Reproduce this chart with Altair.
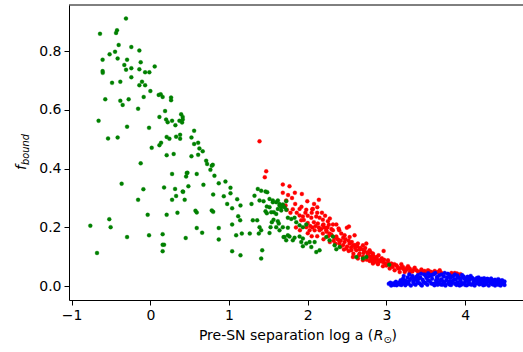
import altair as alt
import pandas as pd

# ---- data ----
green = [
    (-0.31, 0.911), (-0.64, 0.859), (-0.436, 0.862), (-0.424, 0.871), (-0.403, 0.821), (-0.242, 0.814),
    (-0.14, 0.802), (-0.518, 0.789), (-0.449, 0.798), (-0.607, 0.771), (-0.416, 0.775), (-0.296, 0.771),
    (-0.123, 0.762), (-0.331, 0.753), (-0.309, 0.737), (-0.242, 0.742), (-0.14, 0.738), (-0.067, 0.728),
    (-0.013, 0.728), (0.055, 0.748), (-0.607, 0.732), (-0.605, 0.726), (-0.242, 0.711), (-0.487, 0.692),
    (-0.382, 0.696), (-0.106, 0.696), (-0.14, 0.684), (-0.067, 0.684), (0.0, 0.664), (0.106, 0.651),
    (0.131, 0.653), (0.156, 0.644), (-0.085, 0.644), (0.263, 0.642), (0.263, 0.633), (-0.573, 0.636),
    (-0.382, 0.631), (-0.276, 0.636), (-0.352, 0.617), (-0.156, 0.604), (0.187, 0.596), (0.115, 0.576),
    (0.391, 0.585), (0.411, 0.576), (0.411, 0.567), (0.2, 0.567), (0.22, 0.558), (0.276, 0.563),
    (0.318, 0.548), (0.369, 0.563), (-0.658, 0.563), (-0.296, 0.543), (-0.017, 0.539), (-0.538, 0.503),
    (-0.416, 0.506), (0.207, 0.508), (0.242, 0.502), (0.327, 0.509), (0.378, 0.515), (0.378, 0.502),
    (0.017, 0.471), (0.115, 0.48), (0.136, 0.488),
    (0.207, 0.446), (0.296, 0.45), (-0.123, 0.418), (-0.365, 0.349), (0.276, 0.382), (0.454, 0.373),
    (0.471, 0.386), (-0.089, 0.33), (0.174, 0.336), (0.314, 0.331), (0.416, 0.321), (0.483, 0.34),
    (0.327, 0.307), (0.276, 0.294), (0.436, 0.294), (-0.156, 0.294), (-0.034, 0.243), (0.207, 0.243),
    (0.344, 0.25), (-0.522, 0.228), (-0.763, 0.206), (-0.505, 0.201), (-0.296, 0.167), (-0.017, 0.173),
    (0.156, 0.177), (0.449, 0.164), (0.156, 0.141), (0.174, 0.141), (0.156, 0.119), (-0.678, 0.113),
    (0.403, 0.557), (0.556, 0.529), (0.522, 0.506), (0.556, 0.484), (0.607, 0.488), (0.623, 0.469),
    (0.665, 0.459), (0.522, 0.442), (0.607, 0.447), (0.709, 0.427), (0.721, 0.416), (0.78, 0.41),
    (0.793, 0.413), (0.763, 0.396), (0.462, 0.385), (0.589, 0.382), (0.814, 0.376), (0.869, 0.35),
    (0.954, 0.356), (0.674, 0.345), (0.411, 0.322), (1.018, 0.335), (0.798, 0.312), (0.933, 0.306),
    (1.018, 0.316), (1.103, 0.296), (0.976, 0.28), (1.145, 0.275), (1.039, 0.265), (1.285, 0.28),
    (0.78, 0.258), (0.798, 0.253), (0.573, 0.257), (0.589, 0.251), (1.116, 0.238), (1.141, 0.224),
    (1.039, 0.21), (1.302, 0.224), (1.357, 0.224), (0.589, 0.198), (0.658, 0.182), (0.869, 0.198),
    (0.869, 0.159), (1.09, 0.173), (1.162, 0.179), (1.263, 0.179), (1.387, 0.201), (1.408, 0.19),
    (1.378, 0.179), (1.514, 0.181), (1.039, 0.119), (1.145, 0.105), (1.408, 0.094), (1.421, 0.122),
    (1.365, 0.331), (1.408, 0.325), (1.463, 0.322), (1.485, 0.32), (1.323, 0.308), (1.387, 0.292),
    (1.438, 0.289), (1.514, 0.297), (1.556, 0.292), (1.599, 0.286), (1.48, 0.271), (1.514, 0.269),
    (1.463, 0.255), (1.48, 0.248), (1.569, 0.252), (1.62, 0.263), (1.663, 0.269), (1.641, 0.28),
    (1.683, 0.278), (1.726, 0.289), (1.543, 0.218), (1.599, 0.201), (1.632, 0.213), (1.641, 0.19),
    (1.683, 0.201), (1.692, 0.167), (1.726, 0.156), (1.747, 0.173),
    (1.556, 0.286), (1.62, 0.292), (1.641, 0.275), (1.705, 0.269), (1.726, 0.26), (1.663, 0.258),
    (1.536, 0.252), (1.599, 0.246), (1.565, 0.226), (1.62, 0.221), (1.747, 0.233), (1.79, 0.229),
    (1.832, 0.233), (1.527, 0.201), (1.747, 0.199), (1.854, 0.218), (1.896, 0.207), (1.938, 0.201),
    (1.981, 0.21), (1.705, 0.167), (1.768, 0.169), (1.832, 0.165), (1.896, 0.169), (1.938, 0.162),
    (1.81, 0.156), (1.917, 0.15), (1.981, 0.145), (2.023, 0.15), (2.087, 0.15), (1.938, 0.136),
    (2.045, 0.133), (2.108, 0.116), (2.15, 0.122), (2.235, 0.167), (2.277, 0.156), (2.319, 0.169),
    (2.341, 0.139), (2.405, 0.133), (2.363, 0.126), (2.617, 0.099), (2.701, 0.094), (2.744, 0.099),
    (3.035, 0.073),
]

red = [
    (1.387, 0.493), (1.472, 0.391), (1.454, 0.371), (1.683, 0.346), (1.768, 0.34), (1.683, 0.318),
    (1.836, 0.318), (1.925, 0.314), (1.994, 0.289), (2.141, 0.294), (1.726, 0.292), (1.734, 0.26),
    (1.81, 0.262), (1.718, 0.275), (1.896, 0.263), (1.981, 0.26), (2.057, 0.262), (2.121, 0.269),
    (2.065, 0.263), (1.896, 0.241), (1.938, 0.237), (1.917, 0.224), (2.045, 0.233), (2.108, 0.237),
    (2.15, 0.233), (2.192, 0.226), (2.078, 0.218), (2.128, 0.213), (2.192, 0.207), (2.256, 0.221),
    (2.268, 0.209), (2.363, 0.21), (2.392, 0.196), (2.497, 0.199), (2.523, 0.203), (1.981, 0.201),
    (2.023, 0.19), (2.087, 0.19), (2.15, 0.19), (2.192, 0.179), (2.235, 0.19), (2.277, 0.179),
    (2.319, 0.19), (2.363, 0.169), (2.426, 0.179), (2.468, 0.173), (2.532, 0.167), (2.595, 0.173),
    (2.396, 0.156), (2.468, 0.15), (2.532, 0.145), (2.574, 0.139), (2.637, 0.145), (2.701, 0.139),
    (2.744, 0.145), (2.49, 0.128), (2.553, 0.122), (2.617, 0.122), (2.659, 0.111), (2.71, 0.113),
    (2.765, 0.108), (2.786, 0.122), (2.828, 0.105), (2.872, 0.099), (2.574, 0.099), (2.637, 0.094),
    (2.701, 0.088), (2.786, 0.086), (2.85, 0.082), (2.892, 0.079), (2.828, 0.111), (2.964, 0.12),
    (2.808, 0.094), (2.872, 0.097), (2.913, 0.088), (2.955, 0.082), (3.019, 0.088), (3.062, 0.077),
    (3.126, 0.071), (3.189, 0.075), (3.21, 0.065), (3.274, 0.068), (3.295, 0.06), (3.359, 0.063),
    (3.38, 0.054), (3.444, 0.057), (3.486, 0.052), (3.528, 0.054), (3.571, 0.048), (3.613, 0.052),
    (3.655, 0.048), (3.677, 0.054), (2.828, 0.077), (2.892, 0.075), (2.955, 0.068), (3.041, 0.06),
    (3.104, 0.054), (3.168, 0.048), (3.232, 0.048), (3.295, 0.046), (3.826, 0.045), (3.897, 0.043),
    (3.868, 0.045), (3.94, 0.041),
    (1.95, 0.225), (2.0, 0.215), (2.03, 0.205), (2.06, 0.2), (2.1, 0.205), (2.14, 0.2), (2.17, 0.195),
    (2.21, 0.2), (2.24, 0.185), (2.3, 0.175), (2.34, 0.165), (2.38, 0.16), (2.42, 0.155), (2.45, 0.14),
    (2.5, 0.135), (2.55, 0.132), (2.6, 0.13), (2.66, 0.125), (2.72, 0.12), (2.76, 0.115), (2.8, 0.1),
    (2.86, 0.09), (2.92, 0.085), (2.98, 0.078), (3.0, 0.07), (3.08, 0.065), (3.15, 0.06), (3.25, 0.055),
    (3.33, 0.05), (3.42, 0.048), (3.5, 0.045), (3.6, 0.043), (2.0, 0.18), (2.05, 0.17), (2.12, 0.17),
    (2.2, 0.16), (2.28, 0.15), (2.35, 0.145), (2.42, 0.135), (1.85, 0.2), (1.9, 0.19), (1.78, 0.25),
    (1.86, 0.25), (1.84, 0.28), (1.8, 0.3), (1.75, 0.31), (1.92, 0.27),
    (2.4, 0.19), (2.45, 0.165), (2.48, 0.16), (2.52, 0.155), (2.56, 0.15), (2.6, 0.14), (2.63, 0.135),
    (2.67, 0.13), (2.7, 0.125), (2.73, 0.13), (2.77, 0.1), (2.8, 0.115), (2.84, 0.095), (2.88, 0.09),
    (2.9, 0.105), (2.94, 0.095), (2.97, 0.09), (3.02, 0.08), (3.06, 0.07), (3.1, 0.075), (3.14, 0.065),
    (3.18, 0.062), (3.22, 0.058), (3.26, 0.062), (3.3, 0.055), (3.35, 0.058), (3.4, 0.05), (3.46, 0.05),
    (3.55, 0.05), (3.63, 0.047), (3.7, 0.045), (2.25, 0.2), (2.3, 0.195), (2.32, 0.21), (2.28, 0.23),
    (2.22, 0.24), (2.18, 0.25), (2.12, 0.25), (2.05, 0.25), (2.0, 0.24), (1.97, 0.25), (2.08, 0.28),
    (2.2, 0.21), (2.26, 0.17), (2.33, 0.155), (2.4, 0.145), (2.46, 0.125), (2.52, 0.12), (2.58, 0.11),
    (2.65, 0.105), (2.7, 0.1), (2.75, 0.09), (2.82, 0.085),
]

blue = [
    (3.03, 0.008), (3.05, 0.012), (3.07, 0.005), (3.09, 0.01), (3.12, 0.015), (3.14, 0.008), (3.16, 0.012),
    (3.18, 0.02), (3.19, 0.004), (3.21, 0.025), (3.22, 0.01), (3.24, 0.003), (3.25, 0.018), (3.27, 0.03),
    (3.28, 0.008), (3.3, 0.022), (3.31, 0.002), (3.33, 0.035), (3.34, 0.014), (3.36, 0.027), (3.37, 0.005),
    (3.39, 0.019), (3.4, 0.038), (3.42, 0.01), (3.43, 0.03), (3.45, 0.002), (3.46, 0.022), (3.48, 0.04),
    (3.49, 0.012), (3.51, 0.028), (3.52, 0.005), (3.54, 0.034), (3.55, 0.017), (3.57, 0.009), (3.58, 0.025),
    (3.6, 0.041), (3.61, 0.003), (3.63, 0.02), (3.64, 0.031), (3.66, 0.012), (3.67, 0.037), (3.69, 0.006),
    (3.7, 0.024), (3.72, 0.015), (3.73, 0.033), (3.75, 0.002), (3.76, 0.02), (3.78, 0.042), (3.79, 0.01),
    (3.81, 0.028), (3.82, 0.004), (3.84, 0.018), (3.85, 0.035), (3.87, 0.008), (3.88, 0.024), (3.9, 0.013),
    (3.91, 0.03), (3.93, 0.002), (3.94, 0.02), (3.96, 0.038), (3.97, 0.009), (3.99, 0.026), (4.0, 0.015),
    (4.02, 0.003), (4.03, 0.032), (4.05, 0.011), (4.06, 0.022), (4.08, 0.005), (4.09, 0.028), (4.11, 0.016),
    (4.12, 0.002), (4.14, 0.024), (4.15, 0.01), (4.17, 0.03), (4.18, 0.006), (4.2, 0.018), (4.21, 0.025),
    (4.23, 0.003), (4.24, 0.014), (4.26, 0.022), (4.27, 0.008), (4.29, 0.017), (4.3, 0.002), (4.32, 0.012),
    (4.33, 0.02), (4.35, 0.006), (4.36, 0.015), (4.38, 0.002), (4.39, 0.01), (4.41, 0.018), (4.42, 0.005),
    (4.44, 0.012), (4.45, 0.002), (4.47, 0.008), (4.48, 0.014), (4.5, 0.004),
    (3.1, 0.004), (3.2, 0.015), (3.26, 0.012), (3.35, 0.02), (3.41, 0.025), (3.47, 0.015), (3.53, 0.02),
    (3.56, 0.037), (3.62, 0.01), (3.68, 0.018), (3.71, 0.005), (3.77, 0.03), (3.8, 0.017), (3.86, 0.022),
    (3.89, 0.004), (3.95, 0.012), (3.98, 0.033), (4.01, 0.022), (4.04, 0.018), (4.07, 0.035), (4.1, 0.008),
    (4.13, 0.02), (4.16, 0.016), (4.19, 0.012), (4.22, 0.02), (4.25, 0.005), (4.28, 0.025), (4.31, 0.016),
    (4.34, 0.01), (4.37, 0.02), (4.4, 0.014), (4.43, 0.02), (4.46, 0.018), (4.49, 0.01), (3.44, 0.005),
    (3.59, 0.008), (3.74, 0.01), (3.83, 0.012), (3.92, 0.006), (4.0, 0.004),
    (3.22, 0.035), (3.29, 0.04), (3.32, 0.028), (3.38, 0.032), (3.44, 0.042), (3.5, 0.035), (3.53, 0.044),
    (3.58, 0.038), (3.62, 0.045), (3.65, 0.026), (3.7, 0.04), (3.74, 0.045), (3.8, 0.038), (3.83, 0.032),
    (3.87, 0.04), (3.9, 0.036), (3.93, 0.028), (3.97, 0.03), (4.02, 0.027), (4.06, 0.03), (4.1, 0.025),
    (4.15, 0.028), (4.19, 0.022), (4.24, 0.027), (4.29, 0.024), (4.33, 0.026), (4.38, 0.022), (4.42, 0.024),
    (4.47, 0.02), (4.5, 0.016), (3.35, 0.008), (3.4, 0.012), (3.5, 0.01), (3.65, 0.005), (3.8, 0.006),
    (3.95, 0.005), (4.05, 0.007), (4.2, 0.009), (4.35, 0.012), (4.45, 0.009), (3.23, 0.02), (3.28, 0.015),
    (3.13, 0.003), (3.17, 0.006), (3.06, 0.002),
]

x_ticks = [-1, 0, 1, 2, 3, 4]
y_ticks = [0.0, 0.2, 0.4, 0.6, 0.8]
x_domain = [-1.034, 4.735]
y_domain = [-0.047, 0.957]

W, H = 454, 295
FONT = "DejaVu Sans"


def frame(pts, name):
    return pd.DataFrame({"a": [p[0] for p in pts], "f": [p[1] for p in pts], "s": name})


xs = alt.Scale(domain=x_domain, nice=False, zero=False)
ys = alt.Scale(domain=y_domain, nice=False, zero=False)
xa = alt.Axis(values=x_ticks, format="d", title=None, grid=False)
ya = alt.Axis(values=y_ticks, format=".1f", title=None, grid=False)


def scatter(pts, name, color):
    return alt.Chart(frame(pts, name)).mark_circle(
        size=16, color=color, opacity=1, stroke=color, strokeWidth=0.3
    ).encode(
        x=alt.X("a:Q", scale=xs, axis=xa),
        y=alt.Y("f:Q", scale=ys, axis=ya),
    )


one = pd.DataFrame({"k": [0]})


def label(text, x, y, size=14, style="normal", angle=0, align="left"):
    return alt.Chart(one).mark_text(
        text=text, font=FONT, fontSize=size, fontStyle=style, angle=angle,
        align=align, baseline="alphabetic", color="black"
    ).encode(x=alt.value(x), y=alt.value(y))


top_rule = alt.Chart(one).mark_rule(color="black", strokeWidth=1).encode(
    x=alt.value(0), x2=alt.value(W), y=alt.value(0)
)

chart = alt.layer(
    scatter(red, "red", "#ff0000"),
    scatter(blue, "blue", "#0000ff"),
    scatter(green, "green", "#008000"),
    top_rule,
    label("Pre-SN separation log a (", 304.3, 335, align="right"),
    label("R", 304.8, 335, style="italic"),
    label("\u2299", 314.5, 338, size=9.8),
    label(")", 322.5, 335),
    label("f", -43, 165, style="italic", angle=270),
    label("bound", -40, 160, size=9.8, style="italic", angle=270),
).properties(
    width=W, height=H,
    autosize=alt.AutoSizeParams(type="none"),
    padding={"left": 69, "top": 5, "right": 0, "bottom": 52},
).configure_view(strokeWidth=0).configure_axis(
    domainColor="black", domainWidth=1, tickColor="black", tickWidth=1, tickSize=5,
    labelFont=FONT, labelFontSize=14, labelColor="black", labelPadding=3,
)

chart.save("out.html", embed_options={"renderer": "svg", "actions": False})
